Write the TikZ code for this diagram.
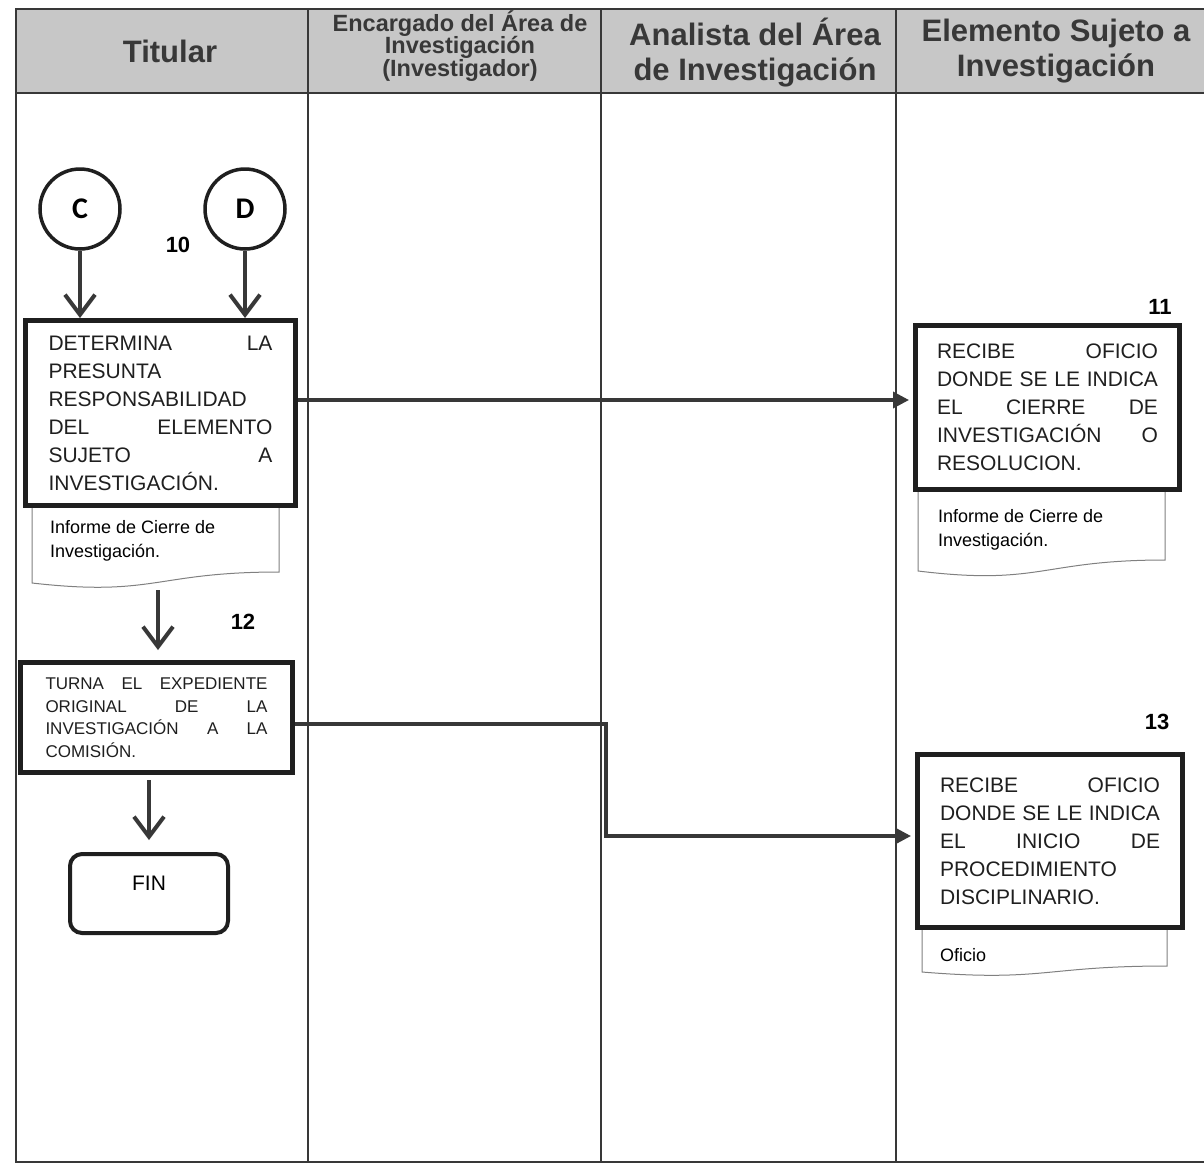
\documentclass[tikz,border=0pt]{standalone}
\usepackage{fontspec}
\setmainfont{Liberation Sans}
\newfontfamily\calfont{Carlito}
\usetikzlibrary{arrows.meta}
\definecolor{lane}{rgb}{0.78,0.78,0.78}
\definecolor{ink}{rgb}{0.12,0.12,0.12}
\definecolor{wire}{rgb}{0.22,0.22,0.22}
\definecolor{headtext}{rgb}{0.22,0.22,0.22}

\begin{document}
\begin{tikzpicture}[x=1pt, y=-1pt,
  every node/.append style={inner sep=0pt},
  lanehead/.style={font=\fontsize{31}{35}\selectfont\bfseries, text=headtext, align=center},
  task/.style={draw=ink, line width=5pt, fill=white, align=left, text=ink},
  conn/.style={circle, draw=ink, line width=3.5pt, minimum size=80, font=\calfont\fontsize{30}{30}\selectfont\bfseries},
  stepno/.style={font=\fontsize{22}{22}\selectfont\bfseries},
  paper/.style={draw=gray, line width=1pt, fill=white},
  flow/.style={draw=wire, line width=4pt, -{Straight Barb[length=20pt,width=30pt]}},
  link/.style={draw=wire, line width=3.5pt, -{Triangle[length=16pt,width=16pt]}}
]
  \useasboundingbox (0,0) rectangle (1204,1167);
  \fill[white] (0,0) rectangle (1204,1167);

  % swimlanes
  \fill[lane] (16,9) rectangle (1204,93);
  \draw[wire, line width=1.5pt] (1204,9) -- (16,9) -- (16,1162) -- (1204,1162);
  \draw[wire, line width=1.5pt] (16,93) -- (1204,93);
  \foreach \x in {308,601,896}
    \draw[wire, line width=1.2pt] (\x,9) -- (\x,1162);

  \node (h1) at (170,51) [lanehead] {Titular};
  \node (h2) at (460,46) [lanehead, font=\fontsize{23.5}{22.5}\selectfont\bfseries]
     {Encargado del Área de\\Investigación\\(Investigador)};
  \node (h3) at (755,53) [lanehead] {Analista del Área\\de Investigación};
  \node (h4) at (1056,51) [lanehead] {Elemento Sujeto a\\Investigación};

  % connectors C and D
  \node (c) at (80,209) [conn] {C};
  \node (d) at (245,209) [conn] {D};
  \node (n10) at (178,245) [stepno] {10};

  % documents (under the boxes)
  \draw[paper] (32,508) -- (32,583) .. controls (155,597) and (155,572) .. (279,572) -- (279,508);
  \draw[paper] (918,492) -- (918,571) .. controls (1041,586) and (1041,560) .. (1165,560) -- (1165,492);
  \draw[paper] (922,930) -- (922,972) .. controls (1044,982) and (1044,966) .. (1167,966) -- (1167,930);

  \node (box10) at (160.5,413)
        [task, text width=224, minimum width=270, minimum height=185,
         font=\fontsize{21}{28}\selectfont]
     {DETERMINA\hfill LA\\PRESUNTA\\RESPONSABILIDAD\\DEL\hfill ELEMENTO\\SUJETO\hfill A\\INVESTIGACIÓN.};
  \node (doc10) at (50,541) [anchor=west, align=left, font=\fontsize{18}{24}\selectfont]
     {Informe de Cierre de\\Investigación.};

  \node (n11) at (1160,307) [stepno] {11};
  \node (box11) at (1047.5,407.5)
        [task, text width=221, minimum width=264, minimum height=164,
         font=\fontsize{21}{28}\selectfont]
     {RECIBE\hfill OFICIO\\DONDE\hfill SE\hfill LE\hfill INDICA\\EL\hfill CIERRE\hfill DE\\INVESTIGACIÓN\hfill O\\RESOLUCION.};
  \node (doc11) at (938,530) [anchor=west, align=left, font=\fontsize{18}{24}\selectfont]
     {Informe de Cierre de\\Investigación.};

  \node (n12) at (243,622) [stepno] {12};
  \node (box12) at (156.5,717.5)
        [task, text width=222, minimum width=272, minimum height=110,
         font=\fontsize{17}{22.5}\selectfont]
     {TURNA\hfill EL\hfill EXPEDIENTE\\ORIGINAL\hfill DE\hfill LA\\INVESTIGACIÓN\hfill A\hfill LA\\COMISIÓN.};

  \node (fin) at (149,893.5)
        [draw=ink, line width=4pt, rounded corners=12, minimum width=158, minimum height=79,
         font=\fontsize{21}{21}\selectfont, text height=15, text depth=21] {FIN};

  \node (n13) at (1157,722) [stepno] {13};
  \node (box13) at (1050,841)
        [task, text width=220, minimum width=265, minimum height=173,
         font=\fontsize{21}{28}\selectfont]
     {RECIBE\hfill OFICIO\\DONDE\hfill SE\hfill LE\hfill INDICA\\EL\hfill INICIO\hfill DE\\PROCEDIMIENTO\\DISCIPLINARIO.};
  \node (doc13) at (940,955) [anchor=west, font=\fontsize{18}{24}\selectfont] {Oficio};

  \coordinate (w12) at (158,590);
  \coordinate (bend) at (606,780);

  \draw[flow] (c.south) -- (c.south |- box10.north);
  \draw[flow] (d.south) -- (d.south |- box10.north);
  \draw[flow, shorten >=10] (w12) -- (w12 |- box12.north);
  \draw[flow, shorten <=5, shorten >=12] (box12.south -| fin.north) -- (fin.north);
  \draw[link, shorten >=4] (box10.east |- 0,400) -- (box11.west |- 0,400);
  \draw[link, shorten >=4] (box12.east |- 0,724) -| (bend) |- (box13.west |- 0,836);
\end{tikzpicture}
\end{document}
